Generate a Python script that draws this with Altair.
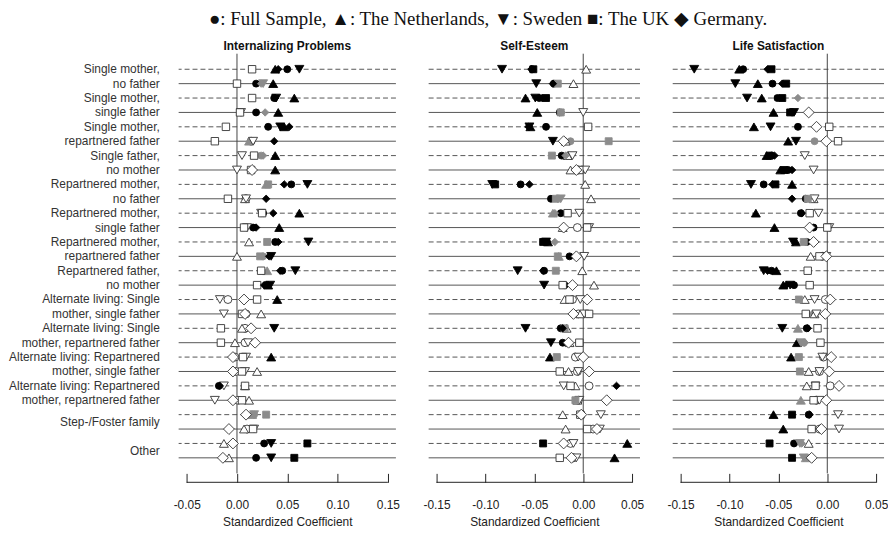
import altair as alt
import pandas as pd

# ---------------- data ----------------
CATEGORIES = [
    ("Single mother,", "no father"),
    ("Single mother,", "single father"),
    ("Single mother,", "repartnered father"),
    ("Single father,", "no mother"),
    ("Repartnered mother,", "no father"),
    ("Repartnered mother,", "single father"),
    ("Repartnered mother,", "repartnered father"),
    ("Repartnered father,", "no mother"),
    ("Alternate living: Single", "mother, single father"),
    ("Alternate living: Single", "mother, repartnered father"),
    ("Alternate living: Repartnered", "mother, single father"),
    ("Alternate living: Repartnered", "mother, repartnered father"),
    ("Step-/Foster family",),
    ("Other",),
]
OUTCOMES = ["Internalizing Problems", "Self-Esteem", "Life Satisfaction"]
GROUPS = ["Full Sample", "The Netherlands", "Sweden", "The UK", "Germany"]
TICKS_INT = [-0.05, 0.0, 0.05, 0.10, 0.15]
TICKS_OTHER = [-0.15, -0.10, -0.05, 0.0, 0.05]
HEADER = "\u25CF: Full Sample, \u25B2: The Netherlands, \u25BC: Sweden \u25A0: The UK \u25C6 Germany."

# each outcome: 28 rows (two models per category); sig: b = black, g = grey, o = open
INT_FULL = [0.050, 0.019, 0.037, 0.019, 0.031, 0.014, 0.024, 0.015, 0.054, 0.009, 0.026, 0.016, 0.038, 0.026,
            0.045, 0.029, -0.009, 0.009, 0.008, 0.008, -0.002, -0.001, -0.018, 0.001, 0.017, 0.010, 0.027, 0.019]
INT_FULL_SIG = "bbbb bogg bobb bgbb oooo oobo gobb"
INT_NL = [0.038, 0.036, 0.057, 0.041, 0.047, 0.012, 0.038, 0.038, 0.029, 0.008, 0.062, 0.042, 0.012, 0.000,
          0.030, 0.031, 0.040, 0.024, 0.005, -0.002, 0.034, 0.020, 0.008, 0.012, 0.015, 0.007, -0.013, -0.008]
INT_NL_SIG = "bbbb bgbb gobb oogb booo booo gooo"
INT_SE = [0.062, 0.026, 0.039, 0.004, 0.043, 0.016, 0.005, 0.000, 0.070, 0.009, 0.024, 0.010, 0.071, 0.034,
          0.058, 0.033, -0.017, -0.013, 0.037, 0.011, 0.009, 0.008, -0.013, -0.022, 0.017, 0.017, 0.034, 0.034]
INT_SE_SIG = "bgbo booo booo bbbb oobo oooo gobb"
INT_UK = [0.015, 0.000, 0.015, 0.003, -0.011, -0.022, 0.017, 0.014, 0.031, -0.009, 0.025, 0.007, 0.030, 0.023,
          0.024, 0.020, 0.020, 0.005, -0.016, -0.016, 0.006, 0.005, 0.008, 0.005, 0.029, 0.016, 0.070, 0.057]
INT_UK_SIG = "oooo oooo gooo ggoo oooo oooo gobb"
INT_DE = [0.041, 0.024, 0.038, 0.028, 0.052, 0.037, 0.026, 0.015, 0.047, 0.029, 0.036, 0.019, 0.041, 0.032,
          0.043, 0.027, 0.007, 0.008, 0.014, 0.018, -0.004, -0.004, -0.017, -0.004, 0.009, -0.008, -0.004, -0.014]
INT_DE_SIG = "bgbg bbgo bbbb bbbb oooo oobo oooo"

SE_FULL = [-0.052, -0.030, -0.045, -0.024, -0.038, -0.013, -0.022, -0.005, -0.064, -0.033, -0.023, -0.006, -0.037, -0.014,
           -0.040, -0.019, -0.011, -0.005, -0.023, -0.021, -0.008, -0.006, 0.006, -0.005, -0.002, 0.010, -0.013, -0.010]
SE_FULL_SIG = "bbbb bgbo bbbo bbbb oobb oooo oooo"
SE_NL = [0.003, -0.010, -0.059, -0.047, -0.054, -0.018, -0.016, -0.013, 0.002, 0.008, -0.031, -0.021, -0.036, -0.025,
         -0.001, 0.011, -0.019, -0.003, -0.017, -0.014, -0.034, -0.015, -0.008, -0.006, -0.021, -0.018, 0.045, 0.032]
SE_NL_SIG = "oobb booo oogo bgoo oooo booo oobb"
SE_SE = [-0.083, -0.048, -0.049, 0.000, -0.055, -0.031, -0.011, 0.002, -0.093, -0.023, -0.004, 0.006, -0.038, 0.001,
         -0.067, -0.040, -0.003, 0.001, -0.059, -0.033, -0.005, -0.005, -0.020, -0.004, 0.018, 0.017, -0.010, -0.007]
SE_SE_SIG = "bbbo bboo bgoo bobb oobb oooo oooo"
SE_UK = [-0.051, -0.026, -0.038, -0.023, 0.005, 0.026, -0.032, -0.004, -0.090, -0.028, -0.016, 0.004, -0.041, -0.026,
         -0.028, -0.021, -0.014, 0.006, -0.019, -0.004, -0.027, -0.024, -0.013, -0.008, -0.003, 0.004, -0.041, -0.024]
SE_UK_SIG = "bgbg oggo bgoo bggo oogo goog oobo"
SE_DE = [-0.053, -0.031, -0.042, -0.022, -0.056, -0.020, -0.018, -0.007, -0.055, -0.026, -0.029, -0.020, -0.029, -0.007,
         -0.041, -0.011, 0.004, -0.010, -0.021, -0.015, 0.000, 0.006, 0.034, 0.024, -0.002, 0.014, -0.020, -0.012]
SE_DE_SIG = "bbbg bogo bggo gobo oobo oobo oooo"

LS_FULL = [-0.086, -0.056, -0.051, -0.036, -0.030, -0.013, -0.057, -0.040, -0.065, -0.022, -0.027, -0.014, -0.021, -0.005,
           -0.057, -0.034, -0.002, -0.014, -0.021, -0.024, -0.004, -0.008, 0.003, -0.011, -0.019, -0.008, -0.034, -0.021]
LS_FULL_SIG = "bbbb bgbb bbbb bobb ogbg oooo bobg"
LS_NL = [-0.090, -0.071, -0.067, -0.055, -0.075, -0.040, -0.062, -0.048, -0.036, -0.014, -0.073, -0.054, -0.032, -0.017,
         -0.052, -0.045, -0.023, -0.013, -0.030, -0.031, -0.037, -0.019, -0.021, -0.027, -0.055, -0.045, -0.019, -0.022]
LS_NL_SIG = "bbbb bbbb bobb bobb oogb boog bbog"
LS_SE = [-0.136, -0.094, -0.082, -0.034, -0.058, -0.032, -0.023, -0.014, -0.078, -0.013, -0.009, 0.002, -0.035, -0.001,
         -0.065, -0.038, -0.013, -0.011, -0.046, -0.027, -0.005, -0.008, -0.012, -0.008, 0.011, 0.012, -0.028, -0.024]
LS_SE_SIG = "bbbb bboo booo bobb oobg oooo oogg"
LS_UK = [-0.057, -0.042, -0.046, -0.038, 0.002, 0.011, -0.059, -0.044, -0.053, -0.020, -0.018, 0.000, -0.024, -0.008,
         -0.020, -0.018, -0.029, -0.022, -0.010, -0.007, -0.029, -0.028, -0.012, -0.014, -0.036, -0.016, -0.059, -0.036]
LS_UK_SIG = "bbbb oobb bgoo gooo gooo ggoo bobb"
LS_DE = [-0.061, -0.046, -0.030, -0.019, -0.011, -0.001, -0.054, -0.036, -0.056, -0.036, -0.026, -0.018, -0.014, -0.001,
         -0.061, -0.042, 0.003, -0.002, -0.020, -0.023, 0.004, 0.002, 0.012, -0.001, -0.018, -0.006, -0.026, -0.016]
LS_DE_SIG = "bbgo oobb bbbo oobb oobg oooo bogo"

SERIES = {
    "Internalizing Problems": [(INT_FULL, INT_FULL_SIG), (INT_NL, INT_NL_SIG), (INT_SE, INT_SE_SIG),
                               (INT_UK, INT_UK_SIG), (INT_DE, INT_DE_SIG)],
    "Self-Esteem": [(SE_FULL, SE_FULL_SIG), (SE_NL, SE_NL_SIG), (SE_SE, SE_SE_SIG),
                    (SE_UK, SE_UK_SIG), (SE_DE, SE_DE_SIG)],
    "Life Satisfaction": [(LS_FULL, LS_FULL_SIG), (LS_NL, LS_NL_SIG), (LS_SE, LS_SE_SIG),
                          (LS_UK, LS_UK_SIG), (LS_DE, LS_DE_SIG)],
}

# ---------------- styles ----------------
SHAPES = ["circle", "triangle-up", "triangle-down", "square", "diamond"]
SIZE_FILLED = {"Full Sample": 49, "The Netherlands": 81, "Sweden": 81, "The UK": 49, "Germany": 56}
SIZE_OPEN = {"Full Sample": 64, "The Netherlands": 81, "Sweden": 81, "The UK": 56, "Germany": 121}
FONT = "Liberation Sans"

# ---------------- tables ----------------
n_rows = 2 * len(CATEGORIES)
records = []
for outcome, series in SERIES.items():
    for group, (vals, sig) in zip(GROUPS, series):
        sig = sig.replace(" ", "")
        for i, (v, s) in enumerate(zip(vals, sig)):
            records.append({
                "outcome": outcome, "group": group, "row": i, "value": v, "sig": s,
                "size": SIZE_OPEN[group] if s == "o" else SIZE_FILLED[group],
            })
df = pd.DataFrame(records)

row_df = pd.DataFrame({"row": list(range(n_rows)),
                       "style": ["dashed" if i % 2 == 0 else "solid" for i in range(n_rows)]})

label_rows = []
for k, cat in enumerate(CATEGORIES):
    if len(cat) == 2:
        label_rows.append({"row": 2 * k, "label": cat[0]})
        label_rows.append({"row": 2 * k + 1, "label": cat[1]})
    else:
        label_rows.append({"row": 2 * k + 0.5, "label": cat[0]})
label_df = pd.DataFrame(label_rows)

H = 423
pad_rows = (n_rows - 1) * 0.04
yscale = alt.Scale(domain=[-pad_rows, n_rows - 1 + pad_rows], reverse=True, nice=False, zero=False)


def panel(outcome, ticks, width):
    lo, hi = ticks[0], ticks[-1]
    pad = (hi - lo) * 0.04
    xs = alt.Scale(domain=[lo - pad, hi + pad], nice=False, zero=False)
    sub = df[df["outcome"] == outcome]

    dashed = alt.Chart(row_df[row_df["style"] == "dashed"]).mark_rule(
        color="#555555", strokeWidth=1, strokeDash=[5, 3]
    ).encode(y=alt.Y("row:Q", scale=yscale, axis=None))
    solid = alt.Chart(row_df[row_df["style"] == "solid"]).mark_rule(
        color="#555555", strokeWidth=1
    ).encode(y=alt.Y("row:Q", scale=yscale, axis=None))

    zero = alt.Chart(pd.DataFrame({"x": [0.0]})).mark_rule(color="#444444", strokeWidth=1).encode(
        x=alt.X("x:Q", scale=xs)
    )

    axis_line = alt.Chart(pd.DataFrame({"x": [lo], "x2": [hi]})).mark_rule(
        color="#222222", strokeWidth=1
    ).encode(x=alt.X("x:Q", scale=xs), x2="x2:Q", y=alt.value(H + 9))

    pts = alt.Chart(sub).mark_point(filled=True, opacity=1, strokeWidth=0.9).encode(
        x=alt.X("value:Q", scale=xs,
                axis=alt.Axis(values=ticks, domain=False, grid=False, tickSize=9, tickColor="#222222",
                              labelExpr="replace(format(datum.value, '.2f'), '\u2212', '-')",
                              labelFontSize=12, labelColor="#222222", labelPadding=17, labelFont=FONT,
                              title="Standardized Coefficient", titleFontSize=12, titleFontWeight="normal",
                              titleColor="#222222", titlePadding=7, titleFont=FONT)),
        y=alt.Y("row:Q", scale=yscale, axis=None),
        shape=alt.Shape("group:N", scale=alt.Scale(domain=GROUPS, range=SHAPES), legend=None),
        fill=alt.Fill("sig:N", scale=alt.Scale(domain=["b", "g", "o"],
                                               range=["#000000", "#8c8c8c", "#ffffff"]), legend=None),
        stroke=alt.Stroke("sig:N", scale=alt.Scale(domain=["b", "g", "o"],
                                                   range=["#000000", "#8c8c8c", "#333333"]), legend=None),
        size=alt.Size("size:Q", scale=None),
        order=alt.Order("row:Q"),
    )

    return alt.layer(dashed, solid, zero, axis_line, pts).properties(
        width=width, height=H,
        title=alt.TitleParams(outcome, fontSize=12, fontWeight="bold", font=FONT, color="#111111",
                              offset=0, anchor="middle"),
    )


labels = alt.Chart(label_df).mark_text(
    align="right", baseline="middle", fontSize=12, font=FONT, color="#333333"
).encode(
    y=alt.Y("row:Q", scale=yscale, axis=None),
    x=alt.value(150),
    text="label:N",
).properties(width=155, height=H)

p1 = panel("Internalizing Problems", TICKS_INT, 219)
p2 = panel("Self-Esteem", TICKS_OTHER, 213)
p3 = panel("Life Satisfaction", TICKS_OTHER, 213)

panels = alt.hconcat(p1, p2, p3, spacing=33, bounds="flush")
chart = alt.hconcat(labels, panels, spacing=14, bounds="flush").properties(
    title=alt.TitleParams(HEADER, font="Liberation Serif", fontSize=19, fontWeight="normal",
                          color="#111111", anchor="middle", dx=40, dy=-3, offset=8),
    padding={"left": 0, "top": 0, "right": 0, "bottom": 0},
).configure(font=FONT).configure_view(stroke=None)

chart.save("out.html", embed_options={"renderer": "svg", "actions": False})
